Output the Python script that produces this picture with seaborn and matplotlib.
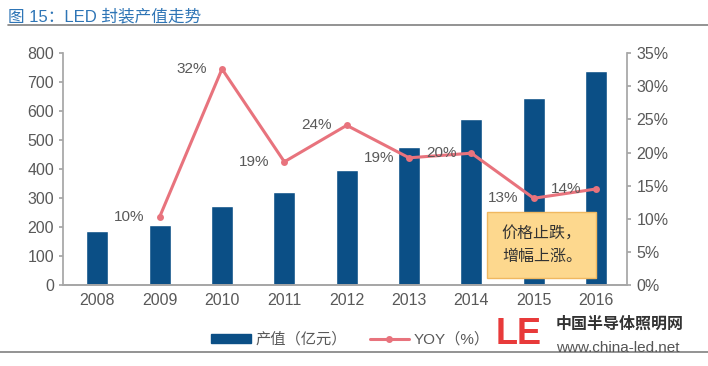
import pandas as pd
import matplotlib.pyplot as plt
import seaborn as sns
from matplotlib.lines import Line2D
from matplotlib.patches import Patch

# data
years = ['2008', '2009', '2010', '2011', '2012', '2013', '2014', '2015', '2016']
output_value = [186, 207, 272, 320, 397, 476, 572, 645, 738]   # 产值（亿元）
yoy = [None, 10.3, 32.6, 18.6, 24.1, 19.2, 19.9, 13.1, 14.5]     # YOY (%)
yoy_labels = ['', '10%', '32%', '19%', '24%', '19%', '20%', '13%', '14%']

df = pd.DataFrame({'年份': years, '产值': output_value, 'YOY': yoy})
df['pos'] = range(len(df))

sns.set_theme(style='white')
plt.rcParams['font.family'] = ['Liberation Sans', 'Noto Sans CJK SC', 'DejaVu Sans']

BAR = '#0b4f86'
LINE = '#e8737d'
GREY = '#595959'

fig = plt.figure(figsize=(7.08, 3.66), dpi=100)
ax = fig.add_axes([0.089, 0.221, 0.797, 0.634])

sns.barplot(data=df, x='年份', y='产值', color=BAR, width=0.35, saturation=1, ax=ax)
ax.set_ylim(0, 800)
ax.set_yticks(range(0, 801, 100))
ax.set_xlim(-0.55, 8.5)
ax.set_xlabel('')
ax.set_ylabel('')

ax2 = ax.twinx()
sns.lineplot(data=df.dropna(), x='pos', y='YOY', color=LINE, linewidth=2.2,
             marker='o', markersize=5, markeredgewidth=0, ax=ax2)
ax2.set_ylim(0, 35)
ax2.set_yticks(range(0, 36, 5))
ax2.set_yticklabels([f'{v}%' for v in range(0, 36, 5)])
ax2.set_ylabel('')
ax2.set_xlabel('')

for p, v, lab in zip(df['pos'], df['YOY'], yoy_labels):
    if lab:
        ax2.text(p - 0.24, v, lab, ha='right', va='center', fontsize=11, color=GREY)

for a in (ax, ax2):
    a.spines['top'].set_visible(False)
    for s in ['left', 'right', 'bottom']:
        a.spines[s].set_color('#a6a6a6')
    a.tick_params(axis='both', colors='#a6a6a6', labelcolor=GREY, labelsize=11.5,
                  length=3, direction='out')
ax.spines['right'].set_visible(False)
ax2.spines['left'].set_visible(False)
ax.tick_params(axis='x', length=0, pad=6)

# annotation box
ax2.text(7.13, 6.0, '价格止跌，\n增幅上涨。', fontsize=11.5, color='#333333', ha='center',
         va='center', linespacing=1.6,
         bbox=dict(boxstyle='square,pad=0.9', fc='#fdd88e', ec='#f0b860', lw=1))

# legend
handles = [Patch(color=BAR), Line2D([], [], color=LINE, lw=2.2, marker='o', markersize=4)]
fig.legend(handles, ['产值（亿元）', 'YOY（%）'], loc='center', bbox_to_anchor=(0.495, 0.072),
           ncol=2, frameon=False, fontsize=11, labelcolor=GREY, handlelength=2.6,
           handleheight=0.55, handletextpad=0.3, columnspacing=1.5)

# title and rules
fig.text(0.012, 0.955, '图 15：LED 封装产值走势', fontsize=12, color='#2e75b6', va='center')
fig.add_artist(Line2D([0.012, 1.0], [0.933, 0.933], color='#808080', lw=1.2))
fig.add_artist(Line2D([0.0, 1.0], [0.038, 0.038], color='#808080', lw=1.2))

# watermark
fig.text(0.70, 0.085, 'LE', fontsize=26, fontweight='bold', color='#e83a3a', va='center')
fig.text(0.785, 0.115, '中国半导体照明网', fontsize=11.5, fontweight='bold', color='#333333', va='center')
fig.text(0.785, 0.05, 'www.china-led.net', fontsize=11, color='#555555', va='center')

plt.savefig('out.png', dpi=100)
